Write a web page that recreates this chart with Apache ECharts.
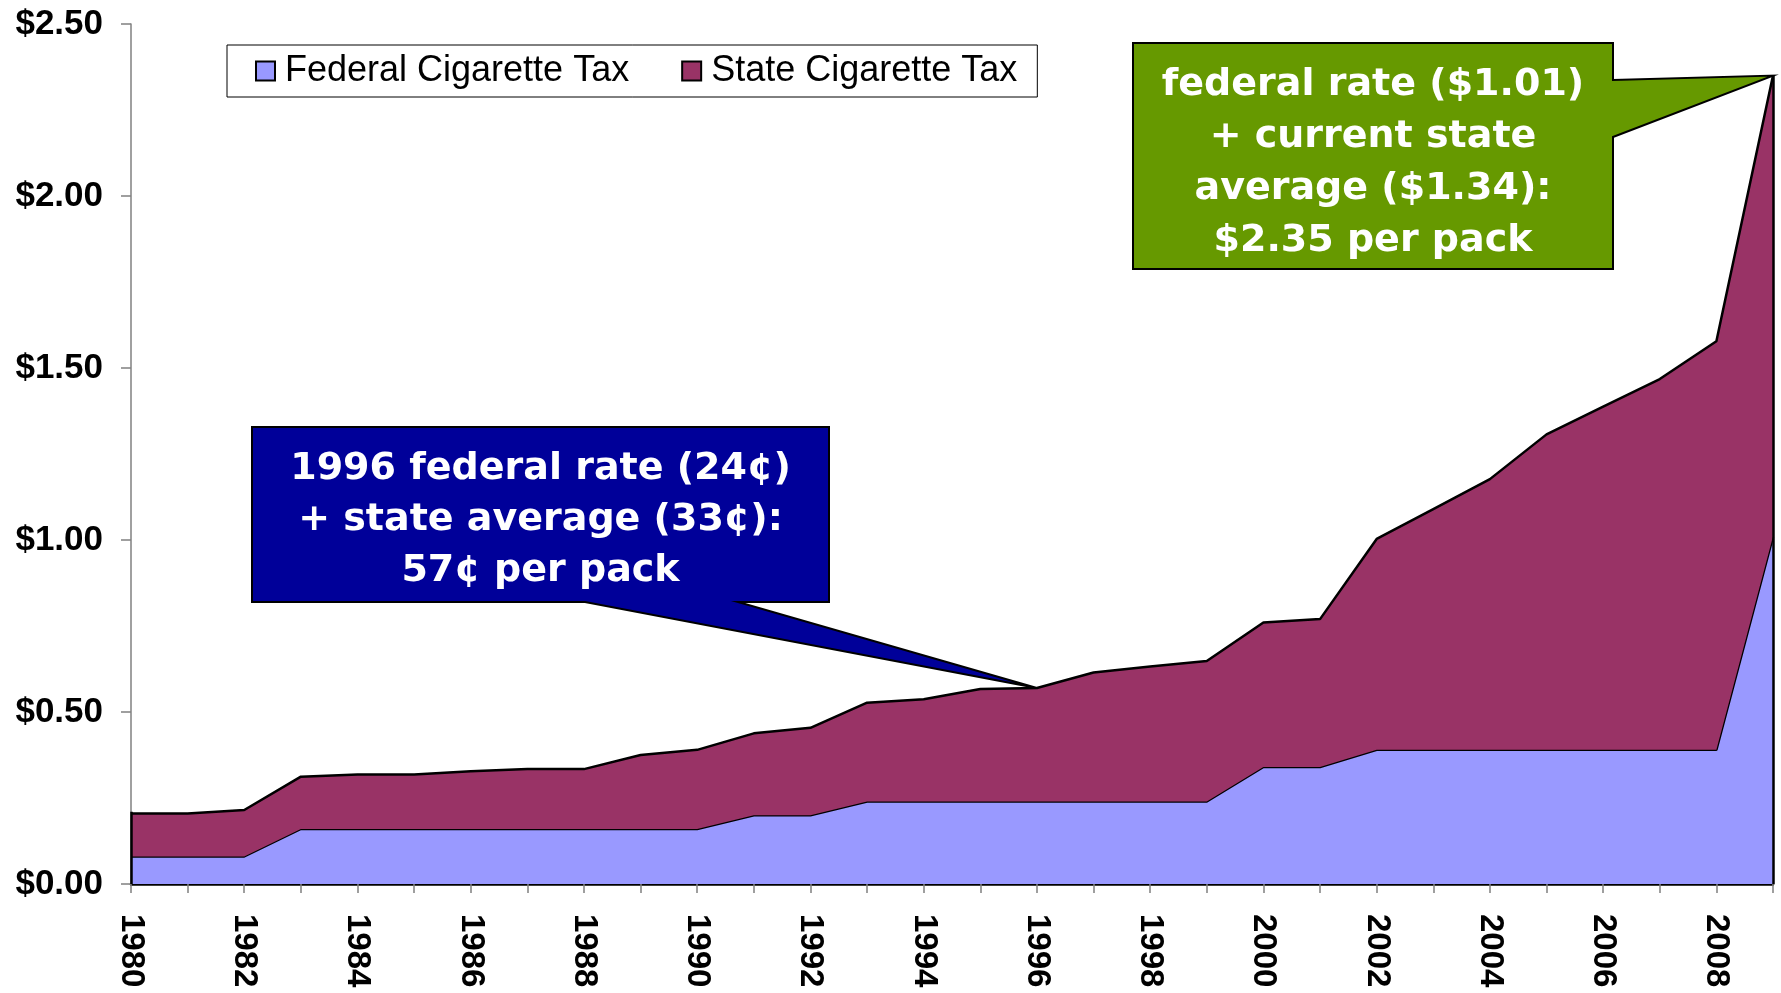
<!DOCTYPE html>
<html>
<head>
<meta charset="utf-8">
<title>Federal and State Cigarette Tax per Pack, 1980-2009</title>
<script src="https://cdn.jsdelivr.net/npm/echarts@6/dist/echarts.min.js"></script>
<style>
  html, body { margin: 0; padding: 0; background: #ffffff; }
  #chart { width: 1781px; height: 993px; }
</style>
</head>
<body>
<div id="chart"></div>
<script>
// Tax per pack of cigarettes, in dollars
const years = ['1980','1981','1982','1983','1984','1985','1986','1987','1988','1989',
               '1990','1991','1992','1993','1994','1995','1996','1997','1998','1999',
               '2000','2001','2002','2003','2004','2005','2006','2007','2008','2009'];
const federalTax = [0.08,0.08,0.08,0.16,0.16,0.16,0.16,0.16,0.16,0.16,
                    0.16,0.20,0.20,0.24,0.24,0.24,0.24,0.24,0.24,0.24,
                    0.34,0.34,0.39,0.39,0.39,0.39,0.39,0.39,0.39,1.01];
const stateTax = [0.125,0.125,0.135,0.152,0.158,0.158,0.168,0.174,0.174,0.215,
                  0.230,0.238,0.254,0.287,0.297,0.327,0.33,0.375,0.392,0.408,
                  0.42,0.43,0.613,0.70,0.787,0.917,0.998,1.078,1.188,1.34];
const seriesNames = ['Federal Cigarette Tax', 'State Cigarette Tax'];

const FED_COLOR = '#9999FF';
const STATE_COLOR = '#993366';

const total = i => +(federalTax[i] + stateTax[i]).toFixed(2);
const cents = v => Math.round(v * 100) + '\u00A2';
const dollars = v => '$' + v.toFixed(2);

const first = 0;
const last = years.length - 1;
const i1996 = years.indexOf('1996');

const chart = echarts.init(document.getElementById('chart'), null, { renderer: 'canvas' });

// black outline on the vertical ends of the stacked areas
const edgeLines = {
  silent: true,
  symbol: 'none',
  label: { show: false },
  lineStyle: { color: '#000', width: 2.5, type: 'solid' },
  data: [
    [{ coord: [years[first], 0] }, { coord: [years[first], total(first)] }],
    [{ coord: [years[last], 0] }, { coord: [years[last], total(last)] }]
  ]
};

chart.setOption({
  animation: false,
  backgroundColor: '#ffffff',
  grid: { left: 131, right: 8, top: 24, bottom: 109, containLabel: false },
  legend: {
    left: 227,
    top: 45,
    orient: 'horizontal',
    backgroundColor: '#fff',
    borderColor: '#000',
    borderWidth: 1,
    padding: [8, 20, 8, 28],
    itemGap: 52,
    itemWidth: 19,
    itemHeight: 19,
    icon: 'rect',
    itemStyle: { borderColor: '#000', borderWidth: 2 },
    textStyle: { fontFamily: 'Liberation Sans, Arial, sans-serif', fontSize: 36, color: '#000', padding: [0, 0, 0, 5] },
    data: seriesNames
  },
  xAxis: {
    type: 'category',
    data: years,
    boundaryGap: false,
    axisLine: { show: true, lineStyle: { color: '#000', width: 2.5 } },
    axisTick: { show: true, interval: 0, length: 9, lineStyle: { color: '#808080', width: 1.5 } },
    axisLabel: {
      interval: 1,
      rotate: -90,
      margin: 30,
      fontFamily: 'Liberation Sans, Arial, sans-serif',
      fontWeight: 'bold',
      fontSize: 33,
      color: '#000'
    },
    splitLine: { show: false }
  },
  yAxis: {
    type: 'value',
    min: 0,
    max: 2.5,
    interval: 0.5,
    axisLine: { show: true, lineStyle: { color: '#808080', width: 1.5 } },
    axisTick: { show: true, length: 10, lineStyle: { color: '#808080', width: 1.5 } },
    axisLabel: {
      margin: 28,
      formatter: v => dollars(v),
      fontFamily: 'Liberation Sans, Arial, sans-serif',
      fontWeight: 'bold',
      fontSize: 35,
      color: '#000'
    },
    splitLine: { show: false }
  },
  series: [
    {
      name: seriesNames[0],
      type: 'line',
      stack: 'tax',
      data: federalTax,
      symbol: 'none',
      itemStyle: { color: FED_COLOR },
      lineStyle: { color: '#000', width: 2.5 },
      areaStyle: { color: FED_COLOR, opacity: 1 },
      z: 2
    },
    {
      name: seriesNames[1],
      type: 'line',
      stack: 'tax',
      data: stateTax,
      symbol: 'none',
      itemStyle: { color: STATE_COLOR },
      lineStyle: { color: '#000', width: 2.5 },
      areaStyle: { color: STATE_COLOR, opacity: 1 },
      markLine: edgeLines,
      z: 3
    }
  ]
});

// Callout boxes pointing at the 1996 and 2009 totals
const tip1996 = chart.convertToPixel({ gridIndex: 0 }, [i1996, total(i1996)]);
const tip2009 = chart.convertToPixel({ gridIndex: 0 }, [last, total(last)]);

const calloutFont = 'bold 38px "DejaVu Sans", Verdana, sans-serif';

const blueBox = { x1: 252, y1: 427, x2: 829, y2: 602 };
const greenBox = { x1: 1133, y1: 43, x2: 1613, y2: 269 };

const blueText = [
  '1996 federal rate (' + cents(federalTax[i1996]) + ')',
  '+ state average (' + cents(stateTax[i1996]) + '):',
  cents(total(i1996)) + ' per pack'
].join('\n');

const greenText = [
  'federal rate (' + dollars(federalTax[last]) + ')',
  '+ current state',
  'average (' + dollars(stateTax[last]) + '):',
  dollars(total(last)) + ' per pack'
].join('\n');

chart.setOption({
  graphic: [
    {
      type: 'polygon',
      z: 100,
      shape: {
        points: [
          [blueBox.x1, blueBox.y1], [blueBox.x2, blueBox.y1], [blueBox.x2, blueBox.y2],
          [738, blueBox.y2], tip1996, [585, blueBox.y2], [blueBox.x1, blueBox.y2]
        ]
      },
      style: { fill: '#000099', stroke: '#000', lineWidth: 2 }
    },
    {
      type: 'text',
      z: 101,
      x: (blueBox.x1 + blueBox.x2) / 2,
      y: (blueBox.y1 + blueBox.y2) / 2 + 6,
      style: {
        text: blueText,
        font: calloutFont,
        fill: '#ffffff',
        align: 'center',
        verticalAlign: 'middle',
        lineHeight: 51
      }
    },
    {
      type: 'polygon',
      z: 100,
      shape: {
        points: [
          [greenBox.x1, greenBox.y1], [greenBox.x2, greenBox.y1], [greenBox.x2, 80],
          tip2009, [greenBox.x2, 137], [greenBox.x2, greenBox.y2], [greenBox.x1, greenBox.y2]
        ]
      },
      style: { fill: '#669900', stroke: '#000', lineWidth: 2 }
    },
    {
      type: 'text',
      z: 101,
      x: (greenBox.x1 + greenBox.x2) / 2,
      y: (greenBox.y1 + greenBox.y2) / 2 + 7,
      style: {
        text: greenText,
        font: calloutFont,
        fill: '#ffffff',
        align: 'center',
        verticalAlign: 'middle',
        lineHeight: 52
      }
    }
  ]
});
</script>
</body>
</html>
